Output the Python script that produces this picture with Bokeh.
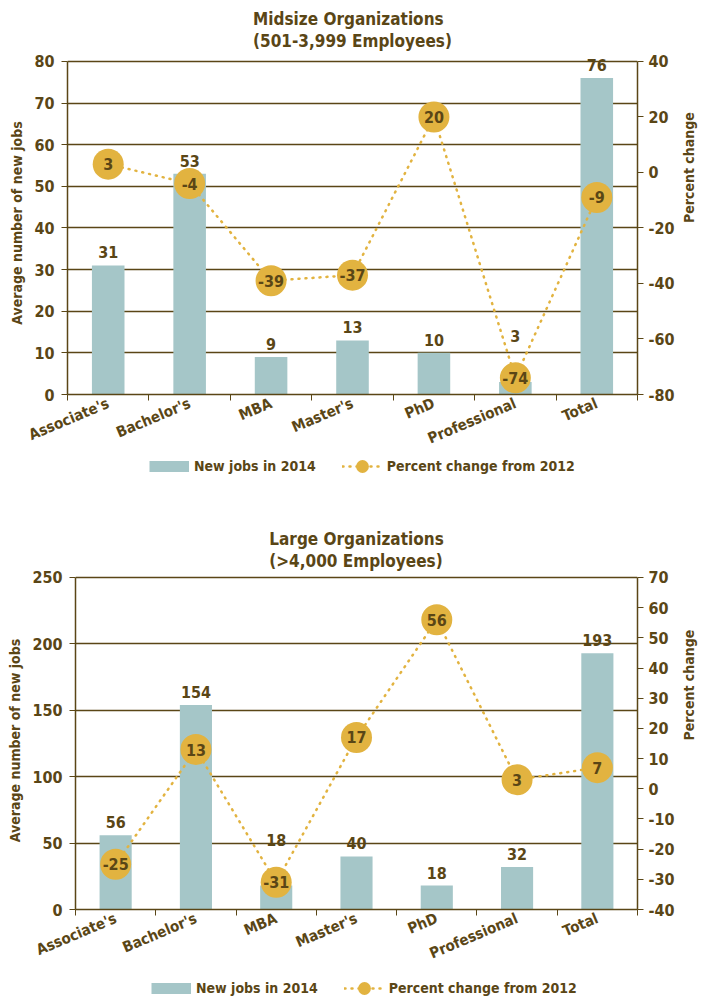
import math
from bokeh.plotting import figure
from bokeh.models import Range1d, LinearAxis, FixedTicker, Legend, LegendItem, Title
from bokeh.core.properties import value
from bokeh.embed import file_html
from bokeh.resources import INLINE

categories = ["Associate's", "Bachelor's", "MBA", "Master's", "PhD", "Professional", "Total"]

mid_jobs = [31, 53, 9, 13, 10, 3, 76]
mid_pct = [3, -4, -39, -37, 20, -74, -9]

large_jobs = [56, 154, 18, 40, 18, 32, 193]
large_pct = [-25, 13, -31, 17, 56, 3, 7]

mid_left_ticks = [0, 10, 20, 30, 40, 50, 60, 70, 80]
mid_right_ticks = [-80, -60, -40, -20, 0, 20, 40]
large_left_ticks = [0, 50, 100, 150, 200, 250]
large_right_ticks = [-40, -30, -20, -10, 0, 10, 20, 30, 40, 50, 60, 70]

FONT = "DejaVu Sans Condensed"
BROWN = "#5a4616"
BAR = "#a5c6c8"
GOLD = "#e2b340"
CIRCLE = 31


def style_axis(ax):
    ax.minor_tick_line_color = None
    ax.major_tick_in = 0
    ax.major_tick_out = 6
    ax.major_tick_line_color = BROWN
    ax.axis_line_color = BROWN
    ax.axis_line_width = 1.5
    ax.major_label_text_font = FONT
    ax.major_label_text_font_size = "16px"
    ax.major_label_text_color = BROWN
    ax.major_label_text_font_style = "bold"
    ax.axis_label_text_font = FONT
    ax.axis_label_text_font_size = "14px"
    ax.axis_label_text_color = BROWN
    ax.axis_label_text_font_style = "bold"


def make(title, jobs, pct, lticks, rticks, height, left, right, top, span_px, pad_px):
    n = len(categories)
    xs = [i + 0.5 for i in range(n)]
    ymin, ymax = lticks[0], lticks[-1]
    pmin, pmax = rticks[0], rticks[-1]
    ppu = span_px / (ymax - ymin)          # pixels per left-axis unit
    pppu = span_px / (pmax - pmin)         # pixels per right-axis unit
    p = figure(width=707, height=height, x_range=Range1d(0, n),
               y_range=Range1d(ymin, ymax + pad_px / ppu),
               output_backend="svg", toolbar_location=None,
               min_border_left=left, min_border_right=right,
               min_border_top=top, min_border_bottom=0)
    p.extra_y_ranges = {"pct": Range1d(pmin, pmax + pad_px / pppu)}
    p.outline_line_color = None
    p.background_fill_color = "white"
    p.border_fill_color = "white"

    p.add_layout(Title(text=title, align="center", text_font=FONT, text_font_size="17px",
                       text_color=BROWN, text_font_style="bold", standoff=2,
                       text_line_height=1.1), "above")

    xa = p.xaxis[0]
    xa.ticker = FixedTicker(ticks=xs, minor_ticks=list(range(n + 1)))
    xa.major_label_overrides = {x: c for x, c in zip(xs, categories)}
    xa.major_tick_line_color = None
    xa.minor_tick_line_color = BROWN
    xa.minor_tick_out = 6
    xa.minor_tick_in = 0
    xa.axis_line_color = BROWN
    xa.axis_line_width = 1.5
    xa.major_label_orientation = 0.4
    xa.major_label_standoff = 2
    xa.major_label_text_font = FONT
    xa.major_label_text_font_size = "15px"
    xa.major_label_text_color = BROWN
    xa.major_label_text_font_style = "bold"

    ya = p.yaxis[0]
    ya.ticker = FixedTicker(ticks=lticks)
    ya.bounds = (ymin, ymax)
    style_axis(ya)
    ya.major_label_standoff = 7
    ya.axis_label = "Average number of new jobs"
    ya.axis_label_standoff = 6

    ra = LinearAxis(y_range_name="pct", ticker=FixedTicker(ticks=rticks), bounds=(pmin, pmax))
    style_axis(ra)
    ra.major_label_standoff = 5
    ra.major_label_overrides = {t: str(t) for t in rticks}
    ra.axis_label = "Percent change"
    ra.axis_label_standoff = 11
    try:
        ra.axis_label_orientation = math.pi / 2
    except Exception:
        pass
    p.add_layout(ra, "right")

    p.xgrid.grid_line_color = None
    p.ygrid.ticker = FixedTicker(ticks=lticks)
    p.ygrid.grid_line_color = BROWN
    p.ygrid.grid_line_width = 1.5

    # bar value labels: above the bar, or well above the marker when the marker hides it
    label_y = []
    for j, c in zip(jobs, pct):
        circle_px = (c - pmin) * pppu
        label_px = (j - ymin) * ppu + 7
        if abs(circle_px - (label_px + 8)) < CIRCLE / 2 + 6:
            label_y.append(ymin + (circle_px + 36) / ppu)
        else:
            label_y.append(ymin + label_px / ppu)

    p.vbar(x=xs, top=jobs, width=0.4, fill_color=BAR, line_color=None)
    p.text(x=xs, y=label_y, text=[str(v) for v in jobs], text_align="center",
           text_baseline="bottom", text_font=value(FONT), text_font_style="bold",
           text_font_size="16px", text_color=BROWN)

    p.line(x=xs, y=pct, y_range_name="pct", line_color=GOLD, line_width=2.5,
           line_dash="1 6", line_cap="round")
    p.scatter(x=xs, y=pct, y_range_name="pct", size=CIRCLE, fill_color=GOLD, line_color=None)
    p.text(x=xs, y=pct, y_range_name="pct", text=[str(v) for v in pct], text_align="center",
           text_baseline="middle", text_font=value(FONT), text_font_style="bold",
           text_font_size="16px", text_color=BROWN)
    return p


def legend_fig(height, x_shift, center_from_top):
    q = figure(width=707, height=height, x_range=Range1d(0, 1), y_range=Range1d(0, 1),
               output_backend="svg", toolbar_location=None,
               x_axis_location=None, y_axis_location=None,
               min_border_left=0, min_border_right=0, min_border_top=0, min_border_bottom=0)
    q.grid.grid_line_color = None
    q.outline_line_color = None
    lb = q.line(x=[5.0, 6.0], y=[5.0, 5.0], line_color=BAR, line_width=11, line_cap="butt")
    ll = q.line(x=[5.0, 6.0], y=[5.0, 5.0], line_color=GOLD, line_width=2.5,
                line_dash="1 6", line_cap="round")
    ls = q.scatter(x=[5.0], y=[5.0], size=13, fill_color=GOLD, line_color=None)
    legend = Legend(items=[LegendItem(label="New jobs in 2014", renderers=[lb]),
                           LegendItem(label="Percent change from 2012", renderers=[ll, ls])],
                    orientation="horizontal",
                    location=(x_shift, height - center_from_top - 16),
                    glyph_width=40, glyph_height=32, spacing=26, padding=0, margin=0,
                    border_line_color=None, background_fill_alpha=0,
                    label_text_font=FONT, label_text_font_size="14px",
                    label_text_color=BROWN, label_text_font_style="bold",
                    label_standoff=5)
    q.add_layout(legend, "center")
    return q


p1 = make("Midsize Organizations\n(501-3,999 Employees)", mid_jobs, mid_pct,
          mid_left_ticks, mid_right_ticks, 458, 67, 69, 51, 334, 10)
l1 = legend_fig(20, 149, 8)
p2 = make("Large Organizations\n(>4,000 Employees)", large_jobs, large_pct,
          large_left_ticks, large_right_ticks, 495, 75, 66, 93, 333, 6)
l2 = legend_fig(30, 151, 15)

open("out.html", "w").write(file_html([p1, l1, p2, l2], INLINE))
